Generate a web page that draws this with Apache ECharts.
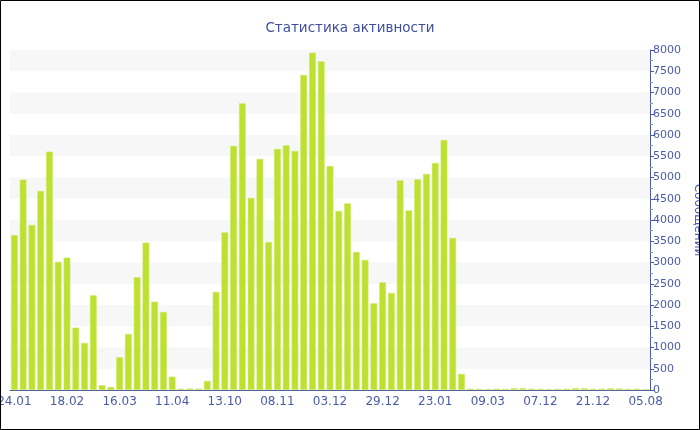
<!DOCTYPE html>
<html>
<head>
<meta charset="utf-8">
<script src="https://cdn.jsdelivr.net/npm/echarts@6/dist/echarts.min.js"></script>
<style>
html,body{margin:0;padding:0;background:#fff;}
#c{width:700px;height:430px;}
</style>
</head>
<body>
<div id="c"></div>
<script>
var titleText = 'Статистика активности';
var yName = 'Сообщений';

var categories = [
 '24.01.2009','28.01.2009','01.02.2009','05.02.2009','09.02.2009','13.02.2009',
 '18.02.2009','22.02.2009','26.02.2009','02.03.2009','07.03.2009','11.03.2009',
 '16.03.2009','20.03.2009','24.03.2009','29.03.2009','02.04.2009','07.04.2009',
 '11.04.2009','20.05.2009','01.07.2009','15.08.2009','20.09.2009','09.10.2009',
 '13.10.2009','17.10.2009','22.10.2009','26.10.2009','30.10.2009','04.11.2009',
 '08.11.2009','12.11.2009','16.11.2009','21.11.2009','25.11.2009','29.11.2009',
 '03.12.2009','07.12.2009','12.12.2009','16.12.2009','20.12.2009','25.12.2009',
 '29.12.2009','02.01.2010','06.01.2010','11.01.2010','15.01.2010','19.01.2010',
 '23.01.2010','27.01.2010','01.02.2010','05.02.2010','12.02.2010','25.02.2010',
 '09.03.2010','10.05.2010','15.07.2010','20.08.2010','25.09.2010','05.11.2010',
 '07.12.2010','09.12.2010','12.12.2010','14.12.2010','16.12.2010','19.12.2010',
 '21.12.2010','15.02.2011','10.04.2011','05.05.2011','01.06.2011','05.07.2011',
 '05.08.2011'
];

var messages = [
 3640, 4949, 3882, 4682, 5608, 3012,
 3114, 1467, 1106, 2227, 110, 70,
 768, 1318, 2651, 3467, 2078, 1835,
 314, 30, 35, 30, 212, 2306,
 3710, 5741, 6745, 4518, 5435, 3482,
 5671, 5757, 5624, 7412, 7937, 7733,
 5271, 4212, 4392, 3247, 3059, 2039,
 2533, 2282, 4933, 4227, 4957, 5082,
 5341, 5882, 3576, 376, 30, 25,
 20, 30, 25, 40, 45, 30,
 25, 20, 25, 30, 45, 40,
 25, 30, 40, 35, 25, 30,
 20
];

var yTicks = [0, 8000, 500];

var chart = echarts.init(document.getElementById('c'), null, {renderer: 'canvas'});
var axisBlue = '#4A5AA3';
var textBlue = '#4B5BA8';
chart.setOption({
  animation: false,
  backgroundColor: '#fff',
  textStyle: {fontFamily: 'DejaVu Sans'},
  title: {
    text: titleText,
    left: 'center',
    top: 16,
    textStyle: {fontSize: 13.5, fontWeight: 'normal', color: '#3E4E9E', fontFamily: 'DejaVu Sans'}
  },
  graphic: [{
    type: 'rect',
    shape: {x: 0.5, y: 0.5, width: 699, height: 429},
    style: {fill: 'none', stroke: '#000', lineWidth: 1},
    silent: true,
    z: 100
  }],
  grid: {left: 10, right: 50, top: 50, bottom: 40, containLabel: false, outerBoundsMode: 'none'},
  xAxis: {
    type: 'category',
    data: categories,
    boundaryGap: true,
    axisLine: {lineStyle: {color: axisBlue, width: 1}},
    axisTick: {interval: 5, alignWithLabel: true, length: 4, lineStyle: {color: '#999'}},
    axisLabel: {
      interval: 5,
      color: textBlue,
      fontSize: 12,
      margin: 6,
      fontFamily: 'DejaVu Sans',
      hideOverlap: false,
      formatter: function (v) { return v.slice(0, 5); }
    },
    splitLine: {show: false}
  },
  yAxis: {
    type: 'value',
    position: 'right',
    min: yTicks[0],
    max: yTicks[1],
    interval: yTicks[2],
    name: yName,
    nameLocation: 'middle',
    nameRotate: -90,
    nameGap: 40,
    nameTextStyle: {color: textBlue, fontSize: 12, fontFamily: 'DejaVu Sans'},
    axisLine: {show: true, lineStyle: {color: axisBlue, width: 1}},
    axisTick: {show: true, length: 4, lineStyle: {color: axisBlue}},
    minorTick: {show: true, splitNumber: 2, length: 3, lineStyle: {color: '#8A95C4'}},
    axisLabel: {
      color: textBlue, fontSize: 11, margin: 3, fontFamily: 'DejaVu Sans',
      formatter: function (v) { return String(v); }
    },
    splitLine: {show: false},
    splitArea: {show: true, areaStyle: {color: ['rgba(255,255,255,0)', '#F7F7F7']}}
  },
  series: [{
    type: 'bar',
    data: messages,
    barCategoryGap: '24%',
    itemStyle: {color: '#BEE030', borderColor: '#CDE85E', borderWidth: 0.6}
  }]
});
</script>
</body>
</html>
